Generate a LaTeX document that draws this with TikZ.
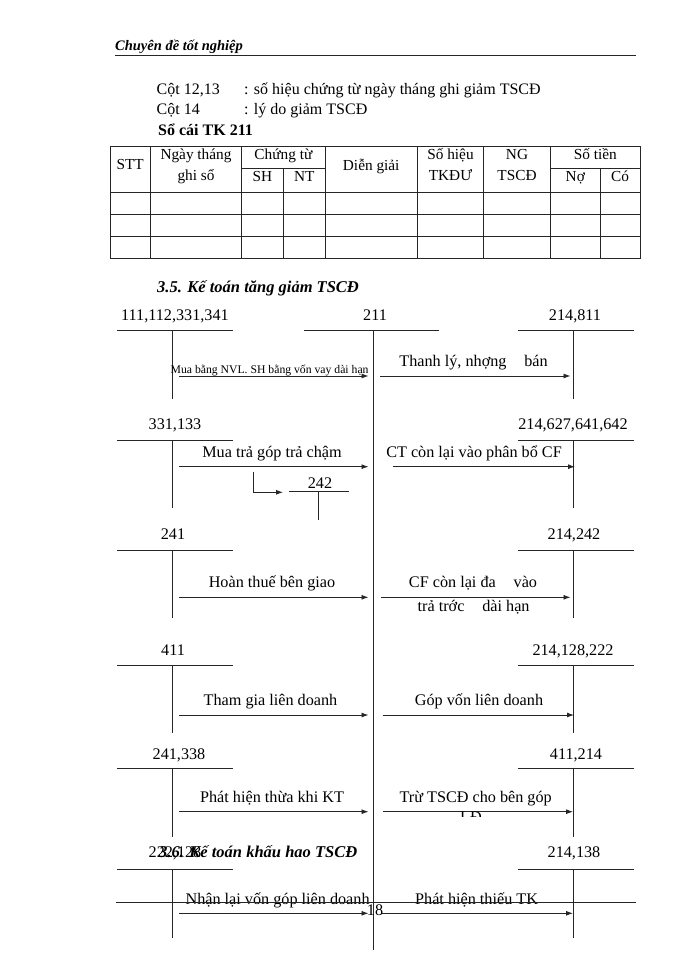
\documentclass[tikz,border=0pt]{standalone}
\usepackage{fontspec}
\setmainfont{Liberation Serif}
\usetikzlibrary{arrows.meta}
\begin{document}
\begin{tikzpicture}[x=1pt,y=-1pt,
  ln/.style={line width=0.9pt,draw=black!85},
  arr/.style={ln,-{Latex[length=7pt,width=5pt]}},
  txt/.style={inner sep=0pt,font=\fontsize{16}{18}\selectfont,text height=0.72em,text depth=0.22em},
  tab/.style={txt,font=\fontsize{15.3}{18}\selectfont},
  acct/.style={txt,font=\fontsize{16.2}{18}\selectfont},
  lbl/.style={txt,font=\fontsize{16.2}{18}\selectfont},
  smalllbl/.style={txt,font=\fontsize{11.7}{13}\selectfont},
  head/.style={txt,font=\fontsize{16.5}{18}\selectfont\bfseries\itshape,anchor=west}]
\useasboundingbox[fill=white] (0,0) rectangle (700,960);

% page header
\node[txt,anchor=west,font=\fontsize{14.5}{15}\selectfont\bfseries\itshape] (hdr) at (115,48) {Chuyên đề tốt nghiệp};
\coordinate (hl) at (115,55); \coordinate (hr) at (636,55);
\draw[ln] (hl) -- (hr);

% intro text
\node[txt,anchor=west] (c1) at (156.5,91.7) {Cột 12,13};
\node[txt,anchor=west] (c1t) at (244,91.7) {: số hiệu chứng từ ngày tháng ghi giảm TSCĐ};
\node[txt,anchor=west] (c2) at (156.5,111.7) {Cột 14};
\node[txt,anchor=west] (c2t) at (244,111.7) {: lý do giảm TSCĐ};
\node[txt,anchor=west,font=\fontsize{16}{18}\selectfont\bfseries] (sc) at (158,133) {Sổ cái TK 211};

% table
\draw[ln] (110,146.7) rectangle (640,258.7);
\foreach \yy in {192,214.3,236.7} \draw[ln] (110,\yy) -- (640,\yy);
\foreach \xx in {150.4,241.6,325.3,417.2,483.7,550.6} \draw[ln] (\xx,146.7) -- (\xx,258.7);
\foreach \xx in {283.1,600} \draw[ln] (\xx,168.7) -- (\xx,258.7);
\draw[ln] (241.6,168.7) -- (325.3,168.7);
\draw[ln] (550.6,168.7) -- (640,168.7);
\node[tab] (t1) at (130.2,166.7) {STT};
\node[tab] (t2a) at (196,156.7) {Ngày tháng};
\node[tab] (t2b) at (196,178) {ghi sổ};
\node[tab] (t3) at (283.4,156.7) {Chứng từ};
\node[tab] (t3a) at (262.3,179) {SH};
\node[tab] (t3b) at (304.2,179) {NT};
\node[tab] (t4) at (371.2,167.7) {Diễn giải};
\node[tab] (t5a) at (450.5,156.7) {Số hiệu};
\node[tab] (t5b) at (450.5,178) {TKĐƯ};
\node[tab] (t6a) at (517,156.7) {NG};
\node[tab] (t6b) at (517,178) {TSCĐ};
\node[tab] (t7) at (595.3,156.7) {Số tiền};
\node[tab] (t7a) at (575.3,179) {Nợ};
\node[tab] (t7b) at (620,179) {Có};

% section heading
\node[head] (h35) at (157,290) {3.5. Kế toán tăng giảm TSCĐ};

% central account 211
\node[acct] (c211) at (375,318) {211};
\draw[ln] (304,330.7) -- (439,330.7);
\coordinate (ctop) at (373.5,330.7); \coordinate (cbot) at (373.5,950);
\draw[ln] (ctop) -- (cbot);

% left and right T accounts
\foreach \ly/\hy/\by/\ltext/\lx/\rtext/\rx/\n in {
  318/330.7/399/{111,112,331,341}/175/{214,811}/575/1,
  426.7/440.3/508/{331,133}/175/{214,627,641,642}/573/2,
  536.7/550/618/{241}/173/{214,242}/574/3,
  653.3/665/733/{411}/173/{214,128,222}/573/4,
  756.7/768.3/837/{241,338}/179/{411,214}/576/5,
  855/869.3/938/{222,128}/175/{214,138}/574/6}{
  \node[acct] (L\n) at (\lx,\ly) {\ltext};
  \node[acct] (R\n) at (\rx,\ly) {\rtext};
  \draw[ln] (117,\hy) -- (233,\hy);
  \draw[ln] (172.5,\hy) -- (172.5,\by);
  \draw[ln] (518,\hy) -- (634.4,\hy);
  \draw[ln] (573.7,\hy) -- (573.7,\by);
}

% arrows
\foreach \ay/\rs/\re/\n in {376/380/570.5/1, 466.7/393/575/2, 597.3/381/570.5/3, 715/382.7/574/4, 811.7/383/573/5, 913.3/382/573/6}{
  \coordinate (la\n) at (179,\ay); \coordinate (lb\n) at (368.5,\ay);
  \coordinate (ra\n) at (\rs,\ay); \coordinate (rb\n) at (\re,\ay);
  \draw[arr] (la\n) -- (lb\n);
  \draw[arr] (ra\n) -- (rb\n);
}

% arrow labels
\node[smalllbl] (m1) at (269.6,370.5) {Mua bằng NVL. SH bằng vốn vay dài hạn};
\node[lbl] (n1) at (473.6,364) {Thanh lý, nhợng\hspace{1.1em}bán};
\node[lbl] (m2) at (272,455) {Mua trả góp trả chậm};
\node[lbl] (n2) at (474,455) {CT còn lại vào phân bổ CF};
\node[lbl] (m3) at (272,585) {Hoàn thuế bên giao};
\node[lbl] (n3) at (473,585) {CF còn lại đa\hspace{1.1em}vào};
\node[lbl] (n3b) at (473.6,609.3) {trả trớc\hspace{1.1em}dài hạn};
\node[lbl] (m4) at (270.5,703.3) {Tham gia liên doanh};
\node[lbl] (n4) at (479,703.3) {Góp vốn liên doanh};
\node[lbl] (m5) at (272,800) {Phát hiện thừa khi KT};
\node[lbl] (n5) at (475.7,800) {Trừ TSCĐ cho bên góp};
\begin{scope}
  \clip (440,810) rectangle (505,816.5);
  \node[lbl] (n5b) at (471,819.5) {LĐ};
\end{scope}
\node[lbl] (m6) at (277.6,901.7) {Nhận lại vốn góp liên doanh};
\node[lbl] (n6) at (476.6,901.7) {Phát hiện thiếu TK};

% account 242 from the elbow
\coordinate (e1) at (253.3,471.7); \coordinate (e2) at (253.3,492.3); \coordinate (e3) at (283,492.3);
\draw[arr] (e1) -- (e2) -- (e3);
\node[acct] (a242) at (320,486) {242};
\draw[ln] (289.3,491.7) -- (349,491.7);
\coordinate (v242a) at (318.3,491.7); \coordinate (v242b) at (318.3,520);
\draw[ln] (v242a) -- (v242b);

% overlapping heading 3.6 and footer
\node[head] (h36) at (159,855) {3.6. Kế toán khấu hao TSCĐ};
\coordinate (fl) at (116,902.7); \coordinate (fr) at (635.5,902.7);
\draw[ln] (fl) -- (fr);
\node[acct] (pg) at (375,913.3) {18};
\end{tikzpicture}
\end{document}
